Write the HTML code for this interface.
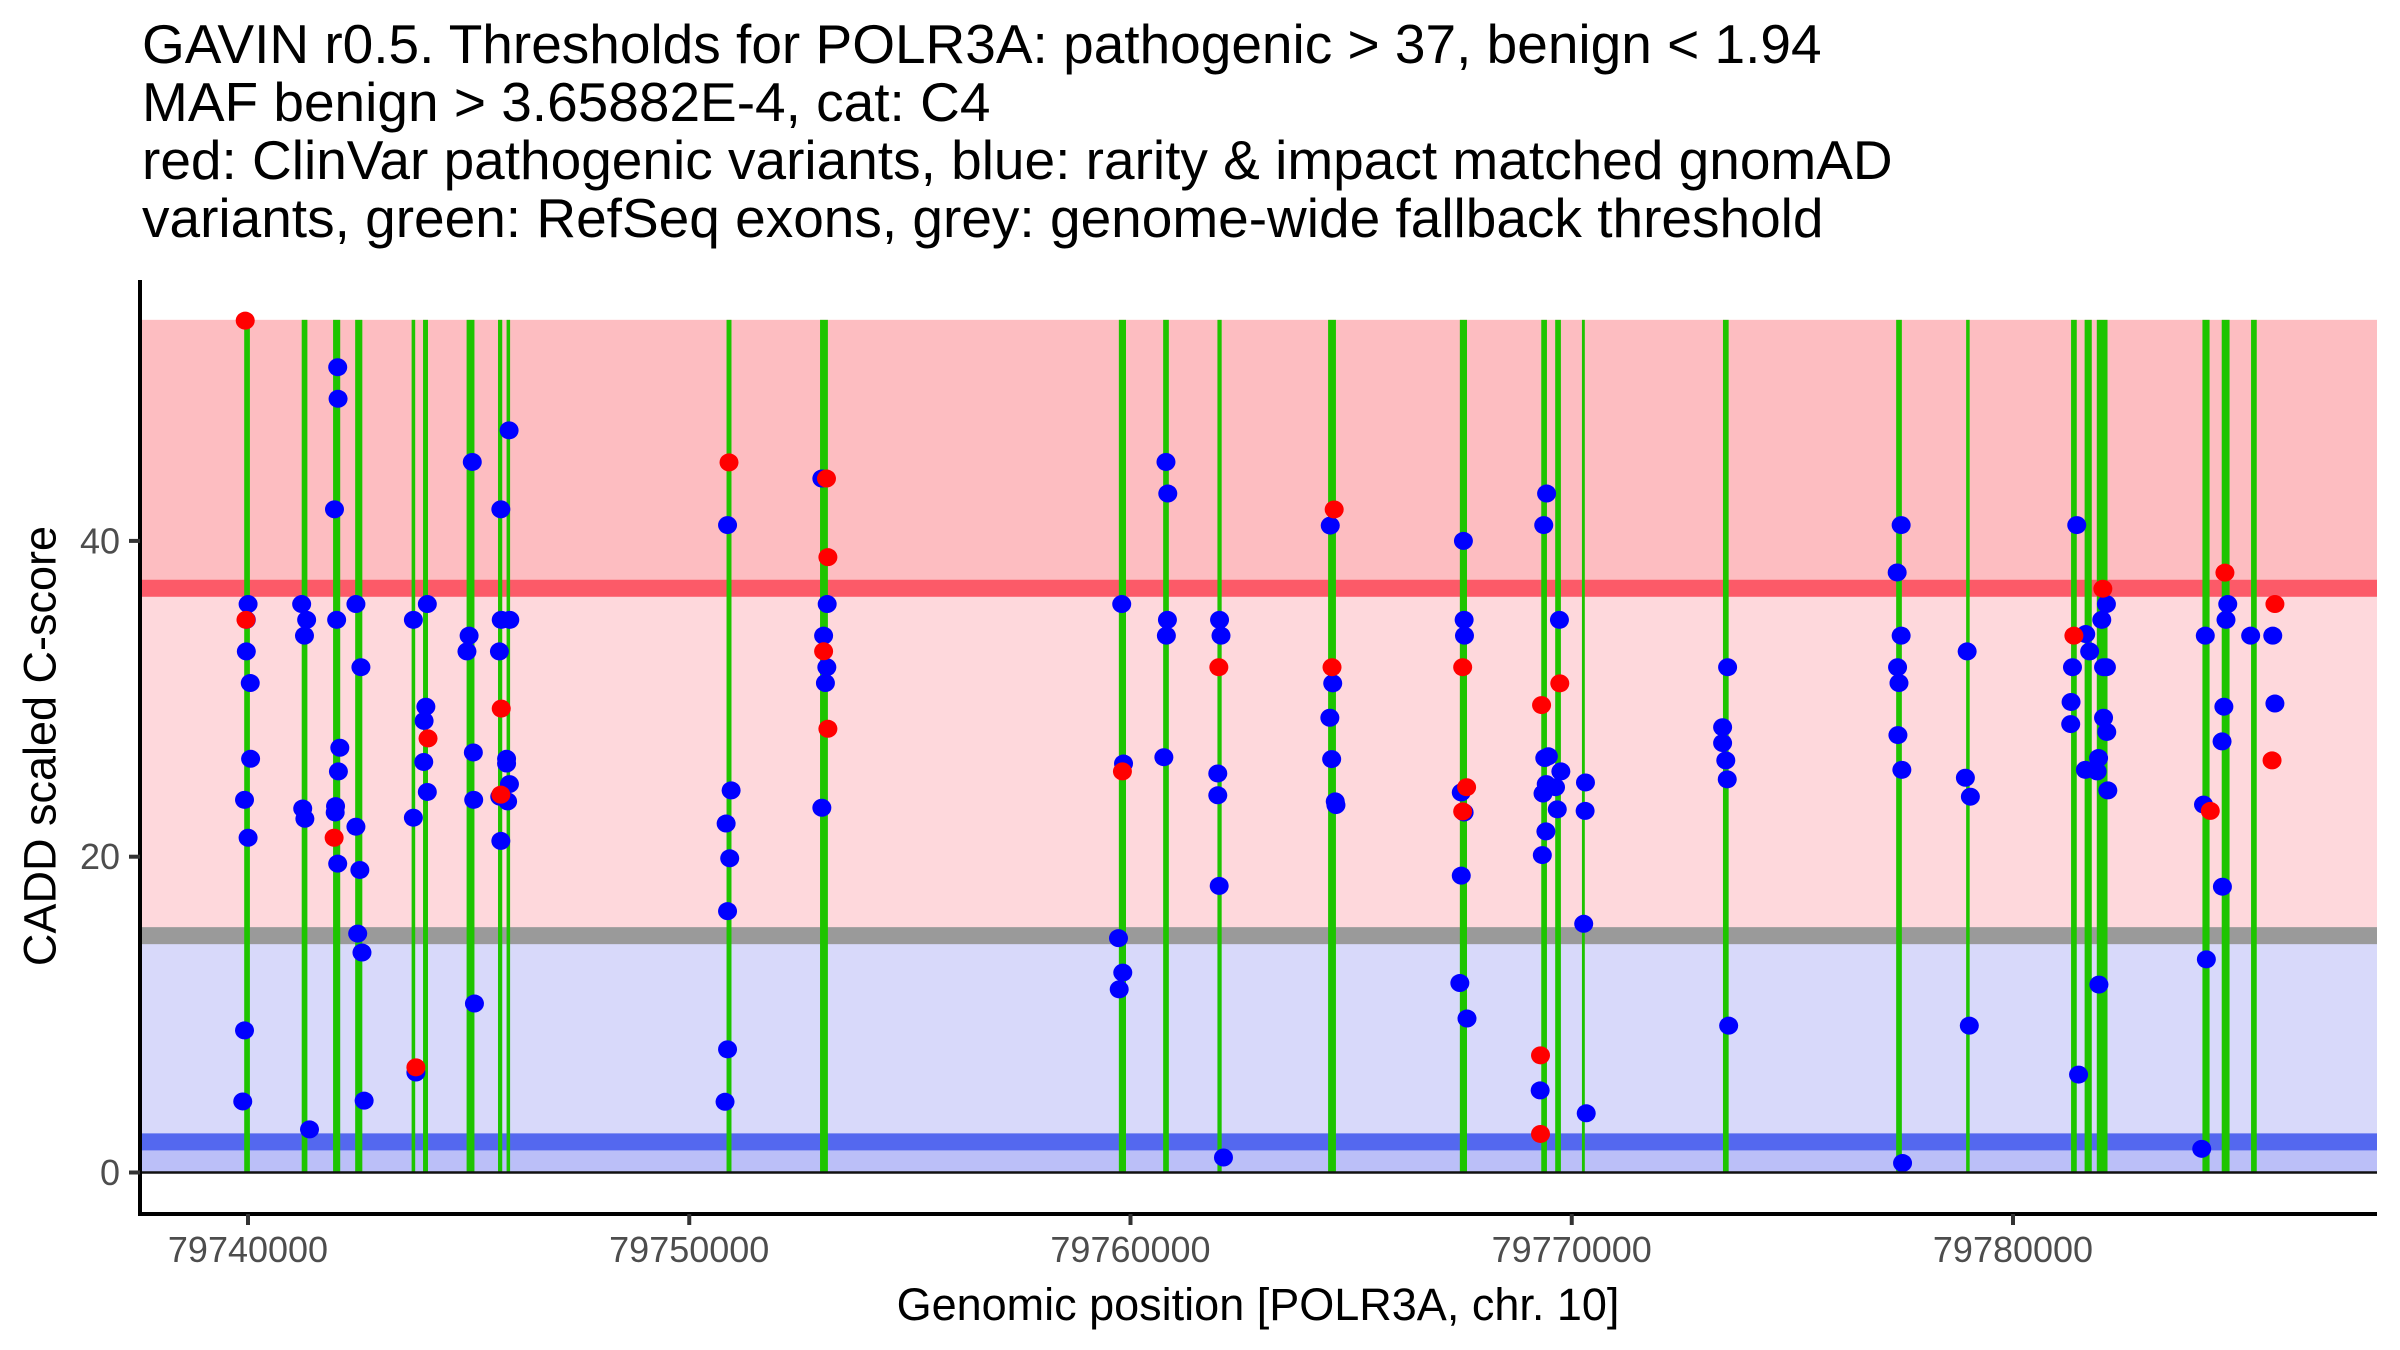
<!DOCTYPE html>
<html><head><meta charset="utf-8"><style>
html,body{margin:0;padding:0;background:#fff;}
svg{display:block;font-family:"Liberation Sans",Arial,sans-serif;}
</style></head><body>
<svg id="chart" width="2400" height="1350" viewBox="0 0 2400 1350" xmlns="http://www.w3.org/2000/svg">
<g font-size="55" fill="#000">
<text x="142" y="63">GAVIN r0.5. Thresholds for POLR3A: pathogenic &gt; 37, benign &lt; 1.94</text>
<text x="142" y="121">MAF benign &gt; 3.65882E-4, cat: C4</text>
<text x="142" y="179">red: ClinVar pathogenic variants, blue: rarity &amp; impact matched gnomAD</text>
<text x="142" y="237">variants, green: RefSeq exons, grey: genome-wide fallback threshold</text>
</g>
<g id="bands"></g>
<g id="exons"></g>
<g id="points"></g>
<g id="axes"></g>
<text x="40" y="746" transform="rotate(-90 40 746)" text-anchor="middle" dominant-baseline="central" font-size="45">CADD scaled C-score</text>
<text x="1258" y="1320" text-anchor="middle" font-size="45">Genomic position [POLR3A, chr. 10]</text>
</svg>
<script>
const xTicks = [79740000, 79750000, 79760000, 79770000, 79780000];
const xTickLabels = ["79740000", "79750000", "79760000", "79770000", "79780000"];
const yTicks = [0, 20, 40];
const yTickLabels = ["0", "20", "40"];
const pathogenicThreshold = 37;
const benignThreshold = 1.94;
const fallbackThreshold = 15;
const maxScore = 54;
const exonStart = [79739914,79741217,79741928,79742429,79743708,79743967,79744954,79745666,79745860,79750845,79752964,79759736,79760740,79761970,79764478,79767464,79769309,79769625,79770231,79773427,79777352,79778938,79781316,79781623,79781899,79784293,79784730,79785395];
const exonEnd = [79740043,79741346,79742090,79742591,79743789,79744079,79745132,79745762,79745940,79750957,79753142,79759898,79760869,79762066,79764656,79767626,79769438,79769754,79770296,79773556,79777481,79779018,79781445,79781785,79782142,79784455,79784908,79785524];
const redPos = [79739937,79739954,79741952,79743805,79744080,79745739,79745730,79750901,79753110,79753142,79753045,79753142,79759817,79762002,79764616,79764567,79767528,79767617,79767528,79769316,79769292,79769292,79769729,79781380,79782036,79784471,79784803,79785936,79785871];
const redScore = [53.95,35.0,21.2,6.66,27.49,29.38,23.93,44.97,43.95,38.97,33.01,28.1,25.4,32.0,41.99,32.0,32.0,24.4,22.87,29.6,7.42,2.44,30.98,34.0,36.97,22.9,37.99,36.0,26.1];
const bluePos = [79740002,79739962,79739962,79740051,79740059,79739921,79740002,79739921,79739881,
79741216,79741329,79741280,79741240,79741289,79741394,
79742033,79742041,79741960,79742009,79742081,79742049,79741984,79741976,79742033,
79742446,79742559,79742446,79742535,79742486,79742583,79742632,
79743748,79743748,79743805,
79744064,79744031,79743991,79743983,79744064,
79745083,79745011,79744962,79745107,79745115,79745132,
79745730,79745739,79745698,79745860,79745860,79745925,79745884,79745706,79745730,
79745917,79745933,
79750868,79750949,79750836,79750917,79750868,79750868,79750811,
79753005,79753126,79753045,79753118,79753086,79753005,
79759801,79759842,79759728,79759825,79759744,
79760804,79760845,79760837,79760813,79760756,
79762018,79762051,79761978,79761978,79762010,79762107,
79764527,79764583,79764518,79764559,79764640,79764656,
79767545,79767561,79767569,79767496,79767561,79767496,79767464,79767626,
79769430,79769365,79769389,79769470,79769422,79769349,79769414,79769333,79769284,
79769721,79769753,79769632,79769672,
79770311,79770303,79770271,79770328,
79773532,79773419,79773419,79773491,79773524,79773556,
79777465,79777375,79777465,79777384,79777416,79777392,79777481,79777497,
79778961,79778921,79779034,79779010,
79781445,79781648,79781348,79781316,79781308,79781486,
79781737,79781640,79781947,
79782117,79782012,79782052,79782117,79782052,79782125,79781939,79781907,79782149,
79784358,79784318,79784382,79784277,
79784867,79784827,79784779,79784738,79784746,
79785386,
79785887,79785936];
const blueScore = [36,35,33,31,26.2,23.6,21.2,9,4.5,
36,35,34,23.05,22.4,2.73,
51,49,42,35,26.9,25.4,23.2,22.8,19.56,
36,32,21.9,19.16,15.13,13.93,4.55,
35,22.47,6.33,
36,29.5,28.6,26,24.1,
45,34,33,26.6,23.6,10.7,
42,35,33,26.2,25.9,24.6,23.5,23.8,21,
47,35,
41,24.2,22.1,19.9,16.55,7.8,4.48,
43.95,36,34,32,31,23.1,
36,25.9,14.84,12.66,11.6,
45,43,35,34,26.3,
35,34,25.27,23.89,18.15,0.95,
40.97,30.98,28.8,26.18,23.5,23.27,
40,35,34,24.07,22.8,18.8,12,9.75,
43,41,26.25,26.36,24.6,24,21.6,20.1,5.2,
35,25.4,24.4,23,
24.7,22.9,15.75,3.75,
32,28.2,27.2,26.1,24.9,9.3,
41,38,34,32,31,27.7,25.5,0.6,
33,25,23.8,9.3,
41,34.1,32,29.8,28.4,6.2,
33,25.5,11.9,
36,35,32,32,28.8,27.9,26.25,25.4,24.2,
34,23.3,13.5,1.5,
36,35,29.5,27.3,18.1,
34,
34,29.7];

const NS = "http://www.w3.org/2000/svg";
const PL = 142, PR = 2377, AXB = 1214, AXT = 280;
function xs(p){ return 248 + (p - 79740000) * (2013 - 248) / 40000; }
function ys(v){ return 1172.5 - v * 15.79; }
function mk(tag, attrs, parent){
  const el = document.createElementNS(NS, tag);
  for (const k in attrs) el.setAttribute(k, attrs[k]);
  parent.appendChild(el);
  return el;
}
const bands = document.getElementById('bands');
let r;
r = mk('rect', {x:PL, y:ys(maxScore), width:PR-PL, height:ys(pathogenicThreshold)-ys(maxScore), fill:'#fdbdc1'}, bands);


r = mk('rect', {x:PL, y:ys(pathogenicThreshold), width:PR-PL, height:ys(fallbackThreshold)-ys(pathogenicThreshold), fill:'#fed8dc'}, bands);


r = mk('rect', {x:PL, y:ys(fallbackThreshold), width:PR-PL, height:ys(benignThreshold)-ys(fallbackThreshold), fill:'#d8d9fa'}, bands);


r = mk('rect', {x:PL, y:ys(benignThreshold), width:PR-PL, height:ys(0)-ys(benignThreshold), fill:'#bbbff8'}, bands);


r = mk('rect', {x:PL, y:ys(pathogenicThreshold)-8.5, width:PR-PL, height:17, fill:'#fc5a68'}, bands);


r = mk('rect', {x:PL, y:ys(fallbackThreshold)-8.5, width:PR-PL, height:17, fill:'#9a9a9a'}, bands);


r = mk('rect', {x:PL, y:ys(benignThreshold)-8.5, width:PR-PL, height:17, fill:'#5468ef'}, bands);



const exons = document.getElementById('exons');
for (let i = 0; i < exonStart.length; i++){
  const x0 = xs(exonStart[i]), x1 = xs(exonEnd[i]);
  const e = mk('rect', {x:x0, y:ys(maxScore), width:Math.max(x1-x0, 2.5), height:ys(0)-ys(maxScore), fill:'#1ec400'}, exons);
  
  
}
let zl = mk('line', {x1:PL, x2:PR, y1:ys(0), y2:ys(0), stroke:'#111', 'stroke-width':2.5}, bands.parentNode);



const pts = document.getElementById('points');
for (let i = 0; i < bluePos.length; i++){
  const c = mk('ellipse', {cx:xs(bluePos[i]), cy:ys(blueScore[i]), rx:9.5, ry:9, fill:'#0000ff'}, pts);
  
  
}
for (let i = 0; i < redPos.length; i++){
  const c = mk('ellipse', {cx:xs(redPos[i]), cy:ys(redScore[i]), rx:9.5, ry:9, fill:'#ff0000'}, pts);
  
  
}

const axes = document.getElementById('axes');
let a = mk('line', {x1:140, x2:140, y1:AXT, y2:AXB+2, stroke:'#000', 'stroke-width':4}, axes);


a = mk('line', {x1:138, x2:PR, y1:AXB, y2:AXB, stroke:'#000', 'stroke-width':4}, axes);


for (let i = 0; i < yTicks.length; i++){
  const y = ys(yTicks[i]);
  const t = mk('line', {x1:129, x2:140, y1:y, y2:y, stroke:'#333', 'stroke-width':4}, axes);
  
  
  const l = mk('text', {x:120, y:y+12.5, 'text-anchor':'end', 'font-size':36, fill:'#4d4d4d'}, axes);
  l.textContent = yTickLabels[i];
  
  
}
for (let i = 0; i < xTicks.length; i++){
  const x = xs(xTicks[i]);
  const t = mk('line', {x1:x, x2:x, y1:AXB, y2:AXB+11, stroke:'#333', 'stroke-width':4}, axes);
  
  
  const l = mk('text', {x:x, y:1262, 'text-anchor':'middle', 'font-size':36, fill:'#4d4d4d'}, axes);
  l.textContent = xTickLabels[i];
  
  
}
</script>
</body></html>
